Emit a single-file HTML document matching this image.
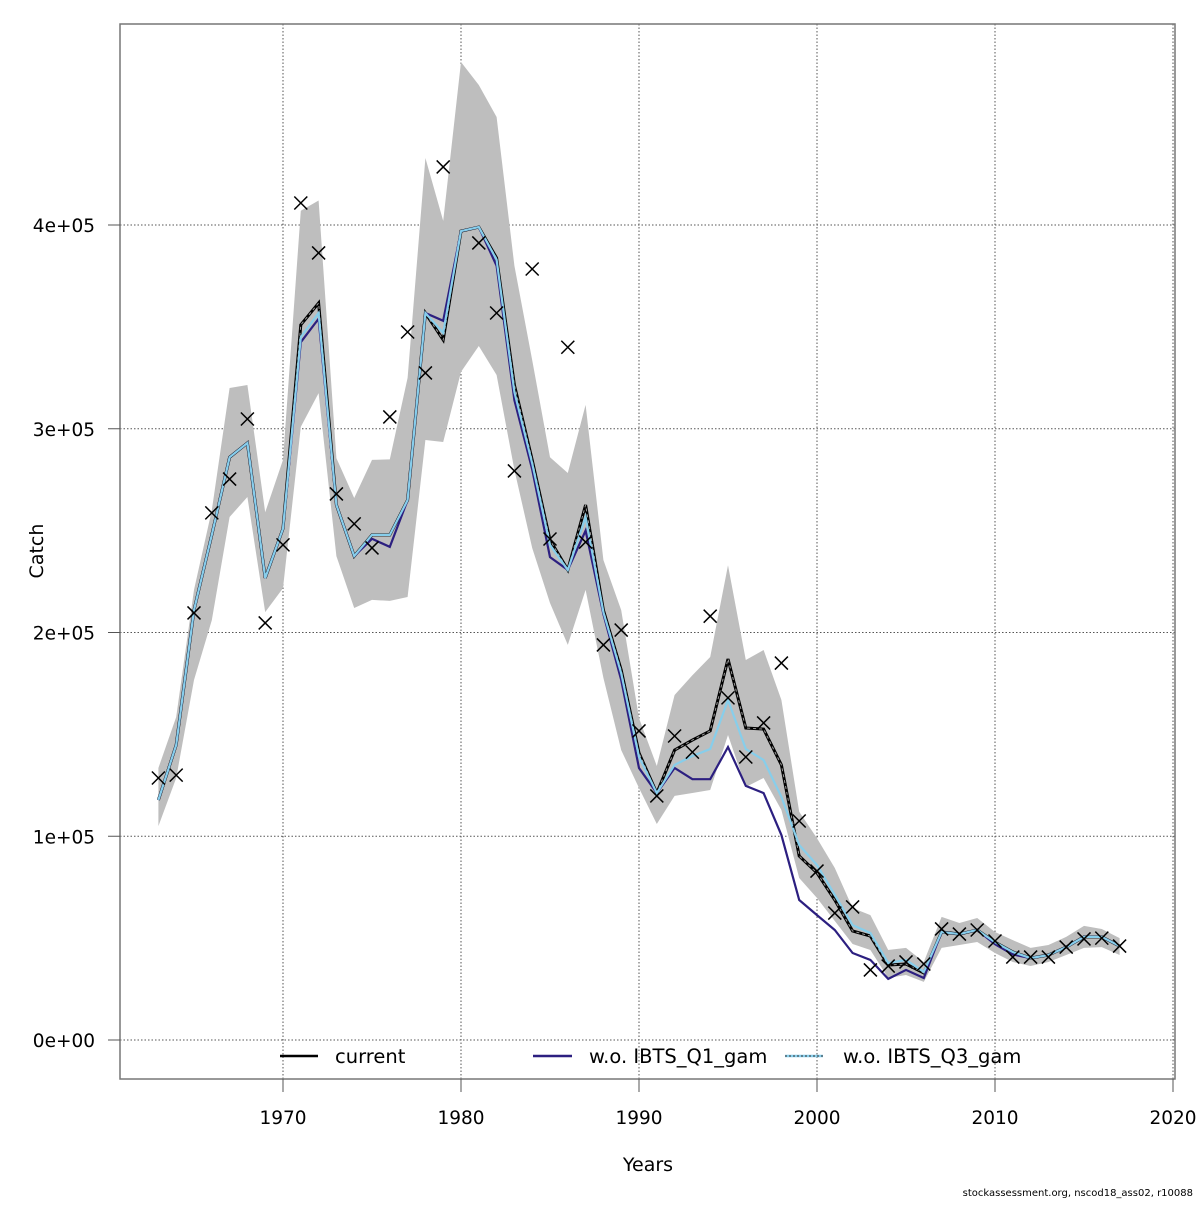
<!DOCTYPE html>
<html><head><meta charset="utf-8"><style>
html,body{margin:0;padding:0;background:#fff;}
svg text{font-family:"DejaVu Sans","Liberation Sans",sans-serif;fill:#000;}
</style></head><body>
<svg id="chart" width="1200" height="1200" viewBox="0 0 1200 1200" xmlns="http://www.w3.org/2000/svg">
<g id="grid"></g>
<g id="band"></g>
<g id="lines"></g>
<g id="obs"></g>
<rect x="120" y="24" width="1055" height="1055" fill="none" stroke="#777" stroke-width="1.5"/>
<g id="axes"></g>
<text x="648" y="1171" font-size="19" text-anchor="middle">Years</text>
<text x="43" y="551" font-size="19" text-anchor="middle" transform="rotate(-90 43 551)">Catch</text>
<text x="1193" y="1196" font-size="10" text-anchor="end">stockassessment.org, nscod18_ass02, r10088</text>
<g>
 <g>
  <line x1="280" y1="1056" x2="318" y2="1056" stroke="#000" stroke-width="2.5"/>
  <text x="335" y="1063" font-size="19.5">current</text>
 </g>
 <g>
  <line x1="533" y1="1056" x2="572" y2="1056" stroke="#2c1f80" stroke-width="2.5"/>
  <text x="589" y="1063" font-size="19.5">w.o. IBTS_Q1_gam</text>
 </g>
 <g>
  <line x1="785" y1="1056" x2="823" y2="1056" stroke="#87ceeb" stroke-width="2.5"/>
  <line x1="785" y1="1056" x2="823" y2="1056" stroke="#333" stroke-width="1" stroke-dasharray="2,2"/>
  <text x="843" y="1063" font-size="19.5">w.o. IBTS_Q3_gam</text>
 </g>
</g>
</svg>
<script>
const years = [];
for (let y = 1963; y <= 2017; y++) years.push(y);
const current = [117.8,144.8,211,247.9,286,293,226.7,251,351,361.7,262.6,237.5,247.9,247.9,265,356.8,343.6,397,399,383.8,321.5,284.7,245.4,230.7,262.6,211,181.6,140.9,121.2,142.3,147.2,151.7,187,153.1,152.6,135,90.3,82,68.7,53.5,51,36.8,37.3,32.9,53,52,54,48,43.2,40.2,41.7,45.6,50.6,50.6,46.1];
const q1 = [117.8,144.8,211,247.9,286,293,226.7,251,342.5,354,262.6,237.5,246,242,265,356.8,353,397,399,380,314,280,237,230.7,250,209,176.7,133.5,121.2,133.5,128,128,143.8,124.7,121.2,100.6,68.7,61.3,54,42.7,39.3,30,34.4,30.4,53,52,54,47,42,40.2,41.7,45.6,50.6,50.6,46.1];
const q3 = [117.8,144.8,211,247.9,286,293,226.7,251,345,356.8,262.6,237.5,247.9,247.9,265,356.8,347,397,399,383,318,283,243,230.7,256.7,210,180,139,121.2,135,139.4,142.8,166.9,142.8,137.4,119.3,95.7,85.9,71.2,56.4,52.5,37.8,39.3,33.4,53,52,54,48,43.2,40.2,41.7,45.6,50.6,50.6,46.1];
const upper = [133.5,158.5,220.9,260,320,321.5,259,284.7,407,412,285.6,266,284.7,285,325,432.9,402,480,468.7,453,380,333.7,286,278.3,311.7,235.6,211,158,134.5,169.3,179,188,233,186.5,191.4,166.9,112,99,84.4,64.8,61.3,44.2,45.2,38.3,60.4,57.4,59.9,53,49,45.2,46.6,50.6,56,54.5,50];
const lower = [105,128.6,176.7,206,256.7,266.5,210,221.8,300.9,317.5,237.5,212,216,215.5,217.4,294.5,293.5,327.9,340.6,326.4,279.8,241.5,214.5,193.9,220.9,177.7,142.3,123.7,106,119.8,121.2,122.7,149.7,124.2,128.6,112.9,79.5,69.7,58.4,47.1,44.2,30.4,31.9,28.5,45.2,46.6,48.1,42.7,38.3,36.3,38.3,41.7,45.2,45.6,41.7];
const observed = [128.6,130,209.6,258.7,275.3,304.8,204.7,243,410.8,386.3,268,253.3,241.5,305.8,347.5,327.4,428.5,null,391.2,356.8,279.3,378.4,245.9,340,244.4,193.9,201.2,151.7,119.8,149.2,141.3,208,167.9,138.9,155.6,185,107.5,82.9,62.3,65.3,34.4,36.3,38.3,37.3,54.5,52,54,48.6,40.7,40.7,40.7,45.6,49.6,50,46.1];
const xTicks = [1970,1980,1990,2000,2010,2020];
const yTicks = [0,100,200,300,400];
const yTickLabels = ["0e+00","1e+05","2e+05","3e+05","4e+05"];

const NS = "http://www.w3.org/2000/svg";
function sx(yr){ return 283 + (yr - 1970) * 17.8; }
function sy(v){ return 1040 - v * 2.0375; }
function mk(tag, attrs, parent){
  const e = document.createElementNS(NS, tag);
  for (const k in attrs) e.setAttribute(k, attrs[k]);
  parent.appendChild(e); return e;
}
const grid = document.getElementById('grid');
const axes = document.getElementById('axes');
xTicks.forEach(t => {
  const g = mk('line',{x1:sx(t),x2:sx(t),y1:24,y2:1079,stroke:'#555','stroke-width':1,'stroke-dasharray':'1.5,2'},grid);
  
  
  const tk = mk('line',{x1:sx(t),x2:sx(t),y1:1079,y2:1092,stroke:'#555','stroke-width':1},axes);
  
  
  const lb = mk('text',{x:sx(t),y:1124,'font-size':18.5,'text-anchor':'middle'},axes);
  lb.textContent = t;
  
  
});
yTicks.forEach((t,i) => {
  const g = mk('line',{x1:120,x2:1175,y1:sy(t),y2:sy(t),stroke:'#555','stroke-width':1,'stroke-dasharray':'1.5,2'},grid);
  
  
  const tk = mk('line',{x1:108,x2:120,y1:sy(t),y2:sy(t),stroke:'#555','stroke-width':1},axes);
  
  
  const lb = mk('text',{x:95,y:sy(t)+7,'font-size':18.5,'text-anchor':'end'},axes);
  lb.textContent = yTickLabels[i];
  
  
});
let pts = years.map((y,i)=> sx(y)+','+sy(upper[i]));
for (let i = years.length-1; i>=0; i--) pts.push(sx(years[i])+','+sy(lower[i]));
const band = mk('polygon',{points:pts.join(' '),fill:'#bebebe',stroke:'none'},document.getElementById('band'));


function path(arr){ return years.map((y,i)=> sx(y)+','+sy(arr[i])).join(' '); }
const L = document.getElementById('lines');
const c1 = mk('polyline',{points:path(current),fill:'none',stroke:'#000','stroke-width':3},L);


const c2 = mk('polyline',{points:path(current),fill:'none',stroke:'#999','stroke-width':1,'stroke-dasharray':'3,3'},L);


const l1 = mk('polyline',{points:path(q1),fill:'none',stroke:'#2c1f80','stroke-width':2.2},L);


const l3 = mk('polyline',{points:path(q3),fill:'none',stroke:'#87ceeb','stroke-width':2.2},L);


const O = document.getElementById('obs');
observed.forEach((v,i)=>{
  if (v === null) return;
  const x = sx(years[i]), y = sy(v), d = 6.5;
  const p = mk('path',{d:`M${x-d},${y-d}L${x+d},${y+d}M${x-d},${y+d}L${x+d},${y-d}`,stroke:'#000','stroke-width':1.5,fill:'none'},O);
  
  
});
</script>
</body></html>
